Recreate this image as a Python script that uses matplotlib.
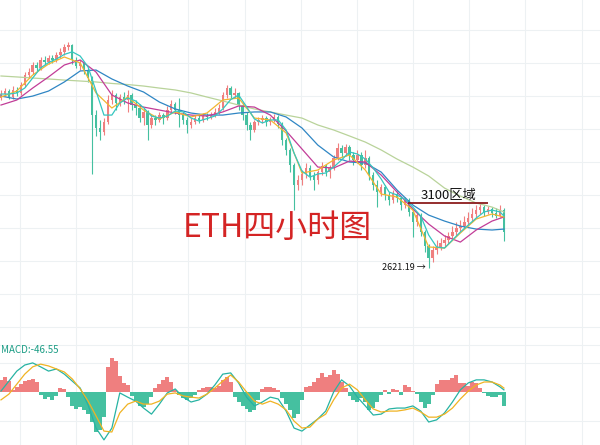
import numpy as np
import matplotlib
matplotlib.use('Agg')
import matplotlib.pyplot as plt

plt.rcParams['font.family'] = ['Noto Sans CJK SC', 'DejaVu Sans']

# ETH 4h candles
open_ = [3874, 3903, 3925, 3881, 3933, 3911, 3970, 4043, 4065, 4117,
         4095, 4154, 4139, 4169, 4154, 4191, 4213, 4250, 4264, 4154,
         4110, 4132, 4080, 4021, 3748, 3653, 3623, 3697, 3859, 3896,
         3837, 3881, 3859, 3896, 3822, 3800, 3726, 3771, 3675, 3726,
         3712, 3748, 3726, 3785, 3830, 3785, 3748, 3712, 3675, 3697,
         3726, 3712, 3741, 3734, 3748, 3771, 3800, 3896, 3947, 3896,
         3911, 3822, 3748, 3675, 3638, 3697, 3712, 3726, 3697, 3712,
         3734, 3682, 3564, 3491, 3380, 3233, 3269, 3314, 3358, 3299,
         3269, 3328, 3373, 3328, 3358, 3432, 3505, 3468, 3513, 3454,
         3417, 3454, 3380, 3432, 3306, 3233, 3181, 3218, 3159, 3122,
         3166, 3137, 3085, 3122, 3034, 2960, 3011, 2886, 2783, 2695,
         2754, 2776, 2805, 2827, 2857, 2886, 2916, 2930, 2960, 2989,
         3019, 3048, 3070, 3034, 3056, 3026, 3004, 3048]
close = [3903, 3925, 3881, 3933, 3911, 3970, 4043, 4065, 4117, 4095,
         4154, 4139, 4169, 4154, 4191, 4213, 4250, 4264, 4154, 4110,
         4132, 4080, 4021, 3748, 3653, 3623, 3697, 3859, 3896, 3837,
         3881, 3859, 3896, 3822, 3800, 3726, 3771, 3675, 3726, 3712,
         3748, 3726, 3785, 3830, 3785, 3748, 3712, 3675, 3697, 3726,
         3712, 3741, 3734, 3748, 3771, 3800, 3896, 3947, 3896, 3911,
         3822, 3748, 3675, 3638, 3697, 3712, 3726, 3697, 3712, 3734,
         3682, 3564, 3491, 3380, 3233, 3269, 3314, 3358, 3299, 3269,
         3328, 3373, 3328, 3358, 3432, 3505, 3468, 3513, 3454, 3417,
         3454, 3380, 3432, 3306, 3233, 3181, 3218, 3159, 3122, 3166,
         3137, 3085, 3122, 3034, 2960, 3011, 2886, 2783, 2695, 2754,
         2776, 2805, 2827, 2857, 2886, 2916, 2930, 2960, 2989, 3019,
         3048, 3070, 3034, 3056, 3026, 3004, 3048, 2886]
high = [3933, 3947, 3940, 3962, 3955, 3992, 4065, 4095, 4139, 4139,
        4176, 4183, 4191, 4191, 4213, 4242, 4272, 4287, 4272, 4176,
        4154, 4139, 4095, 4036, 3785, 3712, 3726, 3896, 3933, 3911,
        3903, 3918, 3933, 3911, 3859, 3830, 3800, 3785, 3756, 3748,
        3771, 3763, 3815, 3859, 3844, 3874, 3771, 3734, 3726, 3748,
        3748, 3763, 3763, 3771, 3800, 3830, 3918, 3970, 3962, 3947,
        3918, 3837, 3771, 3697, 3712, 3734, 3748, 3741, 3734, 3756,
        3748, 3697, 3579, 3505, 3395, 3306, 3343, 3395, 3380, 3328,
        3343, 3402, 3387, 3380, 3454, 3542, 3527, 3535, 3527, 3476,
        3491, 3476, 3491, 3446, 3328, 3269, 3240, 3233, 3181, 3196,
        3188, 3151, 3144, 3137, 3048, 3034, 3026, 2901, 2798, 2783,
        2827, 2842, 2864, 2886, 2930, 2960, 2975, 3004, 3034, 3063,
        3085, 3100, 3085, 3078, 3070, 3063, 3085, 3063]
low = [3859, 3888, 3866, 3866, 3888, 3896, 3955, 4021, 4051, 4073,
       4080, 4117, 4124, 4132, 4139, 4169, 4191, 4228, 4124, 4095,
       4080, 4051, 3992, 3314, 3594, 3564, 3601, 3682, 3830, 3785,
       3815, 3830, 3771, 3785, 3748, 3697, 3675, 3564, 3653, 3675,
       3697, 3682, 3712, 3763, 3756, 3660, 3682, 3616, 3653, 3682,
       3690, 3697, 3712, 3719, 3734, 3756, 3785, 3874, 3874, 3874,
       3785, 3712, 3638, 3564, 3623, 3675, 3690, 3667, 3675, 3697,
       3653, 3527, 3454, 3328, 3048, 3196, 3233, 3284, 3269, 3196,
       3240, 3306, 3299, 3284, 3343, 3417, 3439, 3446, 3417, 3380,
       3395, 3343, 3358, 3269, 3196, 3070, 3151, 3122, 3085, 3100,
       3107, 3048, 3063, 3004, 2849, 2930, 2857, 2739, 2621.19, 2665,
       2724, 2754, 2776, 2798, 2827, 2857, 2886, 2916, 2930, 2960,
       2989, 3019, 3004, 3019, 2997, 2989, 2997, 2820]

# moving averages, sampled every 4 candles
ma_idx = list(range(0, 125, 4)) + [127]
ma_yellow = [3881, 3925, 4043, 4124, 4176, 4132, 3911, 3800, 3881, 3785,
             3719, 3771, 3734, 3763, 3859, 3874, 3726, 3712, 3616, 3321,
             3343, 3417, 3454, 3343, 3166, 3144, 3048, 2776, 2768, 2879,
             2982, 3019, 2997]
ma_purple = [3822, 3859, 3947, 4029, 4117, 4154, 4065, 3896, 3837, 3807,
             3785, 3763, 3748, 3741, 3771, 3815, 3807, 3748, 3631, 3498,
             3365, 3358, 3409, 3402, 3306, 3181, 3056, 2945, 2857, 2812,
             2901, 2967, 2997]
ma_blue = [3888, 3866, 3888, 3925, 3992, 4073, 4080, 4014, 3962, 3918,
           3844, 3793, 3763, 3748, 3748, 3763, 3771, 3771, 3734, 3653,
           3527, 3439, 3402, 3395, 3328, 3196, 3085, 3011, 2967, 2930,
           2908, 2901, 2908]
ma_green = [4036, 4029, 4021, 4014, 4006, 3999, 3992, 3981, 3973, 3962,
            3947, 3933, 3911, 3881, 3852, 3822, 3793, 3771, 3748, 3726,
            3675, 3638, 3594, 3549, 3491, 3424, 3365, 3299, 3210, 3151,
            3100, 3070, 3034]

# fast line + MACD, sampled every 2 candles
idx2 = list(range(0, 127, 2)) + [127]
ma_cyan = [3903, 3903, 3911, 3947, 4021, 4095, 4135, 4161, 4195, 4214,
           4183, 4102, 3925, 3748, 3748, 3837, 3874, 3852, 3803, 3741,
           3726, 3741, 3778, 3771, 3726, 3704, 3722, 3741, 3793, 3862,
           3896, 3810, 3719, 3690, 3712, 3712, 3638, 3468, 3336, 3291,
           3314, 3321, 3365, 3417, 3476, 3461, 3424, 3358, 3277, 3181,
           3159, 3129, 3070, 3004, 2864, 2776, 2768, 2827, 2886, 2938,
           2989, 3034, 3048, 3034, 3004]
dif = [3, 36, 69, 89, 96, 83, 69, 76, 59, 36,
       13, -43, -119, -158, -119, -3, -17, -30, -53, -73,
       -40, -3, 10, -17, -33, -26, -7, 23, 59, 63,
       30, -17, -46, -33, -17, -23, -63, -119, -129, -109,
       -89, -63, 0, 40, 20, -17, -46, -76, -73, -56,
       -53, -53, -46, -63, -99, -92, -69, -33, 7, 30,
       40, 40, 33, 17, 7]
dea = [-26, -7, 26, 59, 83, 92, 86, 76, 66, 43,
       10, -30, -79, -129, -132, -69, -40, -30, -40, -40,
       -30, -7, -3, -13, -17, -20, -7, 13, 36, 56,
       33, 0, -30, -40, -30, -40, -59, -96, -119, -116,
       -89, -73, -26, 13, 26, 7, -26, -56, -66, -63,
       -63, -59, -53, -66, -83, -83, -73, -53, -23, 3,
       23, 33, 33, 23, 13]
hist = [40, 50, 36, 7, 17, 26, 36, 40, 43, 33,
        -10, -23, -17, -26, -13, 13, 10, -17, -46, -56,
        -50, -59, -73, -99, -132, -125, -83, 83, 112, 102,
        53, 30, 23, -13, -30, -46, -50, -40, -17, 13,
        26, 40, 50, 33, 7, -10, -20, -26, -20, -10,
        7, 13, 17, 17, 13, 20, 40, 50, 33, -17,
        -33, -46, -56, -66, -59, -26, 10, 17, 17, 13,
        7, -20, -40, -59, -86, -73, -26, 17, 20, 33,
        46, 63, 50, 56, 73, 59, 33, 13, -13, -26,
        -33, -20, -33, -59, -53, -33, -10, 7, -7, 10,
        7, -10, 23, 17, 3, -7, -33, -53, -40, -10,
        26, 40, 40, 40, 46, 56, 30, 30, 20, 33,
        30, 13, -3, -13, -17, -17, -10, -46.55]

RED = '#ef7f7f'
TEAL = '#45c0a0'

fig = plt.figure(figsize=(6, 4.45), dpi=100)
ax = fig.add_axes([0, 101 / 445, 1, 344 / 445])
ax2 = fig.add_axes([0, 0, 1, 101 / 445])

for a in (ax, ax2):
    a.set_xlim(-0.25, 151.26)
    for s in a.spines.values():
        s.set_visible(False)
    a.set_xticks(np.arange(4.8, 151, 14.18))
    a.tick_params(length=0, labelbottom=False, labelleft=False)
    a.grid(color='#edf1f3', lw=0.8)
    a.set_axisbelow(True)

ax.set_ylim(2061, 4596)
ax.set_yticks(np.arange(4375, 2061, -243.2))

o = np.array(open_, float)
c = np.array(close, float)
x = np.arange(len(c))
cols = [RED if cc >= oo else TEAL for oo, cc in zip(o, c)]
ax.vlines(x, low, high, colors=cols, lw=0.8, zorder=2)
body = np.maximum(np.abs(c - o), 6)
ax.bar(x, body, bottom=np.minimum(o, c), width=0.6, color=cols, zorder=2)

ax.plot(ma_idx, ma_green, color='#b9d39a', lw=0.9, zorder=3)
ax.plot(ma_idx, ma_blue, color='#2f86c4', lw=0.9, zorder=3)
ax.plot(ma_idx, ma_purple, color='#c23d98', lw=0.9, zorder=3)
ax.plot(ma_idx, ma_yellow, color='#f2b630', lw=0.9, zorder=3)
ax.plot(idx2, ma_cyan, color='#35c6c0', lw=0.9, zorder=3)

# 3100 zone
ax.hlines(3100, 102.8, 123, color='#8c1c1c', lw=1.3, zorder=4)
ax.text(112.9, 3107, '3100区域', fontsize=9.5, ha='center', va='bottom', color='#111111')
ax.text(107.3, 2621.19, '2621.19 →', fontsize=6.5, ha='right', va='center', color='#111111')

fig.text(183 / 600, 1 - 228 / 445, 'ETH四小时图', color='#d42424', fontsize=23, va='center')

# MACD
ax2.set_ylim(-174.9, 158.4)
ax2.set_yticks([155, 95.7, -95.7])
hc = [RED if h > 0 else TEAL for h in hist]
ax2.bar(np.arange(len(hist)), hist, width=1.0, color=hc, lw=0, zorder=2)
ax2.plot(idx2, dif, color='#27b3a3', lw=0.9, zorder=3)
ax2.plot(idx2, dea, color='#f0b323', lw=0.9, zorder=3)
fig.text(1 / 600, 1 - 350 / 445, 'MACD:-46.55', color='#1a9c84', fontsize=7, va='center')

fig.savefig('out.png', dpi=100)
